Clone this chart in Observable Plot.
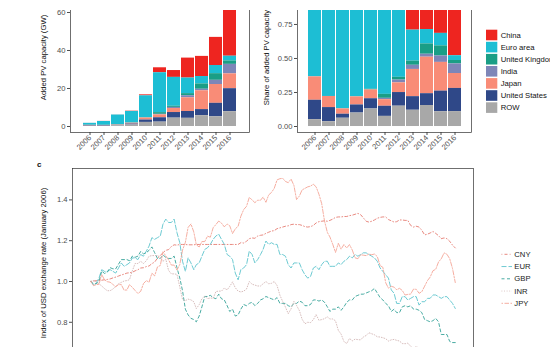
<!DOCTYPE html>
<html><head><meta charset="utf-8">
<script src="https://cdn.jsdelivr.net/npm/d3@7"></script>
<script src="https://cdn.jsdelivr.net/npm/@observablehq/plot@0.6"></script>
<style>
html,body{margin:0;padding:0;background:#fff;}
body{width:550px;height:364px;position:relative;overflow:hidden;font-family:"Liberation Sans",Arial,sans-serif;}
.clip{position:absolute;overflow:hidden;}
.clip > svg{position:absolute;}
#overlay{position:absolute;left:0;top:0;pointer-events:none;}
</style></head><body>
<div id="topclip" class="clip" style="left:0;top:10px;width:550px;height:148px;"></div>
<div id="botclip" class="clip" style="left:0;top:158px;width:550px;height:189px;"></div>
<script>
// ---------- Panel a/b data: added PV capacity (GW) ----------
const years = ["2006","2007","2008","2009","2010","2011","2012","2013","2014","2015","2016"];
const categories = ["China","Euro area","United Kingdom","India","Japan","United States","ROW"];
const catColors = ["#EE2520","#1DBED4","#1A9E86","#7E86B8","#F98C77","#2F4888","#A8A8A8"];
const china = [0.02,0.05,0.05,0.16,0.5,2.6,3.6,10.5,10.6,14.8,34.1];
const euroArea = [1.05,2.05,5.25,6.15,11.6,21.0,15.2,8.2,3.9,4.3,2.5];
const unitedKingdom = [0,0,0,0.01,0.08,0.9,0.6,1.1,2.8,3.5,1.8];
const india = [0,0,0,0,0,0.3,0.6,1.1,0.8,2.2,5.0];
const japan = [0.29,0.22,0.24,0.48,1.08,1.5,2.1,7.2,9.9,9.9,7.8];
const unitedStates = [0.24,0.28,0.18,0.48,1.25,2.3,2.95,3.6,3.2,7.1,12.1];
const row = [0.085,0.095,0.37,0.8,2.15,2.3,4.4,4.3,5.7,5.1,7.8];

// ---------- Panel c data: monthly exchange rates, Jan 2006 - Dec 2016 ----------
const currencies = ["CNY","EUR","GBP","INR","JPY"];
const curColors = ["#E57C72","#5EC4CD","#35A398","#D2B6B4","#F4A596"];
const curDash = ["0.8,2.2,3,2.2","5,2","3,2.5","0.8,1.8","1.5,1.5,4.5,1.5"];
// CNY per USD
const cnyRate = [8.07,8.05,8.04,8.02,8.02,8.00,7.99,7.97,7.93,7.90,7.86,7.82,
7.79,7.75,7.74,7.72,7.67,7.63,7.57,7.56,7.52,7.50,7.42,7.37,
7.24,7.16,7.07,7.00,6.98,6.89,6.84,6.85,6.83,6.83,6.83,6.84,
6.84,6.84,6.83,6.83,6.83,6.83,6.83,6.83,6.83,6.83,6.83,6.83,
6.83,6.83,6.83,6.83,6.83,6.83,6.78,6.79,6.74,6.67,6.65,6.66,
6.60,6.58,6.57,6.53,6.50,6.47,6.46,6.41,6.39,6.37,6.35,6.34,
6.31,6.30,6.31,6.31,6.33,6.36,6.37,6.36,6.33,6.27,6.24,6.23,
6.22,6.23,6.21,6.18,6.14,6.13,6.13,6.12,6.12,6.10,6.09,6.07,
6.05,6.08,6.15,6.23,6.25,6.23,6.20,6.16,6.14,6.13,6.13,6.19,
6.22,6.25,6.24,6.20,6.20,6.21,6.21,6.33,6.37,6.35,6.37,6.45,
6.57,6.55,6.52,6.48,6.53,6.59,6.67,6.65,6.67,6.74,6.85,6.93];
// USD per EUR
const eurRate = [1.21,1.19,1.20,1.23,1.28,1.27,1.27,1.28,1.27,1.26,1.29,1.32,
1.30,1.31,1.32,1.35,1.35,1.34,1.37,1.36,1.39,1.42,1.47,1.46,
1.47,1.48,1.55,1.58,1.56,1.56,1.58,1.50,1.44,1.33,1.27,1.35,
1.32,1.28,1.31,1.32,1.36,1.40,1.41,1.43,1.46,1.48,1.49,1.46,
1.43,1.37,1.36,1.34,1.26,1.22,1.28,1.29,1.31,1.39,1.37,1.32,
1.34,1.37,1.40,1.45,1.43,1.44,1.43,1.43,1.37,1.37,1.36,1.31,
1.29,1.32,1.32,1.32,1.28,1.25,1.23,1.24,1.29,1.30,1.28,1.31,
1.33,1.33,1.30,1.30,1.30,1.32,1.31,1.33,1.34,1.36,1.35,1.37,
1.36,1.37,1.38,1.38,1.37,1.36,1.35,1.33,1.29,1.27,1.25,1.23,
1.16,1.14,1.08,1.08,1.12,1.12,1.10,1.11,1.12,1.12,1.07,1.09,
1.09,1.11,1.11,1.13,1.13,1.12,1.11,1.12,1.12,1.10,1.08,1.05];
// USD per GBP
const gbpRate = [1.77,1.75,1.75,1.77,1.86,1.84,1.85,1.89,1.88,1.88,1.92,1.96,
1.96,1.96,1.95,1.99,1.98,1.99,2.03,2.01,2.02,2.04,2.07,2.02,
1.97,1.97,2.00,1.98,1.97,1.97,1.99,1.89,1.80,1.69,1.53,1.48,
1.45,1.44,1.42,1.47,1.55,1.64,1.64,1.65,1.63,1.62,1.66,1.62,
1.61,1.56,1.51,1.53,1.47,1.48,1.53,1.57,1.56,1.58,1.59,1.56,
1.58,1.61,1.62,1.64,1.63,1.62,1.61,1.63,1.58,1.58,1.58,1.56,
1.55,1.58,1.58,1.60,1.59,1.56,1.56,1.57,1.61,1.61,1.60,1.61,
1.59,1.55,1.51,1.53,1.53,1.55,1.52,1.55,1.59,1.61,1.61,1.64,
1.65,1.66,1.66,1.67,1.68,1.69,1.71,1.67,1.63,1.61,1.58,1.56,
1.51,1.53,1.50,1.50,1.55,1.56,1.55,1.56,1.53,1.53,1.52,1.50,
1.44,1.43,1.42,1.43,1.45,1.42,1.31,1.31,1.31,1.25,1.24,1.24];
// INR per USD
const inrRate = [44.4,44.2,44.5,44.9,45.4,46.0,46.5,46.5,46.1,45.5,44.9,44.6,
44.3,44.2,44.0,42.2,40.8,40.8,40.4,40.8,40.3,39.5,39.4,39.4,
39.4,39.7,40.4,40.0,42.1,42.8,42.8,42.9,45.6,48.7,49.0,48.6,
48.8,49.3,51.2,50.1,48.5,47.8,48.5,48.3,48.4,46.7,46.6,46.6,
45.9,46.3,45.5,44.5,45.8,46.6,46.8,46.6,46.1,44.4,45.0,45.2,
45.4,45.4,44.9,44.4,44.9,44.8,44.4,45.3,47.6,49.2,50.8,52.7,
51.3,49.2,50.3,51.8,54.5,56.0,55.5,55.6,54.6,53.0,54.8,54.6,
54.3,53.7,54.4,54.4,55.0,58.4,59.8,62.9,63.8,61.6,62.6,61.9,
62.1,62.2,61.0,60.4,59.3,59.7,60.1,60.9,61.0,61.3,61.7,62.7,
62.2,62.0,62.4,62.7,63.8,63.9,63.6,65.1,66.2,65.1,66.1,66.6,
67.3,68.2,67.0,66.5,66.9,67.3,67.2,67.0,66.8,66.7,67.6,67.9];
// JPY per USD
const jpyRate = [115.5,117.9,117.3,117.1,111.7,114.6,115.6,115.9,117.2,118.6,117.3,117.3,
120.6,120.5,117.3,118.9,120.8,122.7,121.4,116.7,115.0,115.9,111.0,112.4,
107.8,107.1,100.8,102.6,104.4,106.9,106.9,109.4,106.6,100.1,96.9,91.3,
90.1,92.9,97.9,98.8,96.6,96.6,94.5,94.9,91.4,90.3,89.1,89.8,
91.1,90.1,90.7,93.5,91.8,90.9,87.5,85.4,84.4,81.8,82.5,83.3,
82.6,82.6,81.7,83.2,81.1,80.4,79.3,77.1,76.8,76.7,77.5,77.8,
76.9,78.5,82.4,81.4,79.7,79.3,78.9,78.7,78.2,78.9,80.9,83.6,
89.1,93.1,94.8,97.7,101.1,97.3,99.7,97.8,99.2,97.8,100.1,103.5,
103.9,102.1,102.3,102.5,101.8,102.1,101.8,102.9,107.1,108.0,116.2,119.4,
118.3,118.8,120.4,119.5,120.8,123.7,123.3,123.1,120.0,120.1,122.6,121.6,
118.2,115.0,113.1,109.7,109.0,105.4,103.9,101.3,101.9,103.9,108.6,116.1];

// ---------- build tables ----------
const byCat = {"China":china,"Euro area":euroArea,"United Kingdom":unitedKingdom,"India":india,"Japan":japan,"United States":unitedStates,"ROW":row};
const bars = categories.flatMap(c => years.map((y,i) => ({year:y, cat:c, value:byCat[c][i]})));
const stackOrder = categories.slice().reverse();

const months = d3.utcMonth.range(new Date(Date.UTC(2006,0,1)), new Date(Date.UTC(2017,0,1)));
const rates = {CNY:[cnyRate,true], EUR:[eurRate,false], GBP:[gbpRate,false], INR:[inrRate,true], JPY:[jpyRate,true]};
const fx = currencies.flatMap(c => {
  const [arr, perUSD] = rates[c];
  return arr.map((v,i) => ({cur:c, date:months[i], idx: perUSD ? arr[0]/v : v/arr[0]}));
});

const baseStyle = "background:transparent;overflow:visible;font-family:'Liberation Sans',Arial,sans-serif;font-size:7.6px;color:#4d4d4d;";
const colorScale = {domain: categories, range: catColors};

// ---------- panel a ----------
const pa = Plot.plot({
  width: 255, height: 181,
  marginLeft: 70, marginRight: 6, marginTop: 0, marginBottom: 32,
  style: baseStyle,
  x: {type:"band", domain: years, paddingInner: 0.1, paddingOuter: 0.55, label: null, tickRotate: -45, tickSize: 3, tickPadding: 1},
  y: {domain: [-3.16, 75.26], ticks: [0,20,40,60], label: null, tickSize: 3, tickPadding: 2},
  color: colorScale,
  marks: [
    Plot.barY(bars, {x:"year", y:"value", fill:"cat", order: stackOrder}),
    Plot.frame({stroke:"#333", strokeWidth:0.7})
  ]
});
pa.style.left = "0px"; pa.style.top = "-27px";
document.getElementById("topclip").appendChild(pa);

// ---------- panel b ----------
const pb = Plot.plot({
  width: 225, height: 181,
  marginLeft: 42, marginRight: 9, marginTop: 0, marginBottom: 32,
  style: baseStyle,
  x: {type:"band", domain: years, paddingInner: 0.1, paddingOuter: 0.55, label: null, tickRotate: -45, tickSize: 3, tickPadding: 1},
  y: {domain: [-0.044, 1.051], ticks: [0,0.25,0.5,0.75], tickFormat: ".2f", label: null, tickSize: 3, tickPadding: 2},
  color: colorScale,
  marks: [
    Plot.barY(bars, {x:"year", y:"value", fill:"cat", order: stackOrder, offset:"normalize"}),
    Plot.frame({stroke:"#333", strokeWidth:0.7})
  ]
});
pb.style.left = "255px"; pb.style.top = "-27px";
document.getElementById("topclip").appendChild(pb);

// ---------- panel c ----------
const t0 = months[0], t1 = months[months.length-1];
const pad = (t1 - t0) * 0.05;
const pc = Plot.plot({
  width: 550, height: 221,
  marginLeft: 72, marginRight: 77, marginTop: 18, marginBottom: 10,
  style: baseStyle,
  x: {type:"utc", domain: [new Date(+t0 - pad), new Date(+t1 + pad)], axis: null},
  y: {domain: [0.6078, 1.5539], ticks: [0.8,1.0,1.2,1.4], tickFormat: ".1f", label: null, tickSize: 3, tickPadding: 2},
  marks: [
    ...currencies.map((c,i) => Plot.line(fx.filter(d => d.cur === c), {x:"date", y:"idx", stroke: curColors[i], strokeWidth: 0.9, strokeDasharray: curDash[i]})),
    Plot.frame({stroke:"#333", strokeWidth:0.7})
  ]
});
pc.style.left = "0px"; pc.style.top = "-8px";
document.getElementById("botclip").appendChild(pc);

// ---------- overlay: titles and legends ----------
const ov = d3.select("body").append("svg").attr("id","overlay").attr("width",550).attr("height",364)
  .style("font-family","'Liberation Sans',Arial,sans-serif");
function vtitle(x, y, txt){
  ov.append("text").attr("transform",`translate(${x},${y}) rotate(-90)`).attr("text-anchor","middle")
    .attr("dy","0.35em").attr("font-size",7.7).attr("fill","#111").text(txt);
}
vtitle(43, 57.5, "Added PV capacity (GW)");
vtitle(266, 57.5, "Share of added PV capacity");
vtitle(43, 263, "Index of USD exchange rate (January 2006)");
ov.append("text").attr("x",37).attr("y",167).attr("font-size",8).attr("font-weight","bold").attr("fill","#111").text("c");

const lg = ov.append("g");
categories.forEach((c,i) => {
  const cy = 35 + i*12.1;
  lg.append("rect").attr("x",486).attr("y",cy-5.3).attr("width",11.3).attr("height",10.6).attr("fill",catColors[i]);
  lg.append("text").attr("x",500.7).attr("y",cy).attr("dy","0.35em").attr("font-size",7.7).attr("fill","#111").text(c);
});
const lg2 = ov.append("g");
currencies.forEach((c,i) => {
  const cy = 254.3 + i*12.25;
  lg2.append("line").attr("x1",501.5).attr("x2",512).attr("y1",cy).attr("y2",cy)
    .attr("stroke",curColors[i]).attr("stroke-width",0.9).attr("stroke-dasharray",curDash[i]);
  lg2.append("text").attr("x",514.3).attr("y",cy).attr("dy","0.35em").attr("font-size",7.7).attr("fill","#222").text(c);
});
</script>
</body></html>
